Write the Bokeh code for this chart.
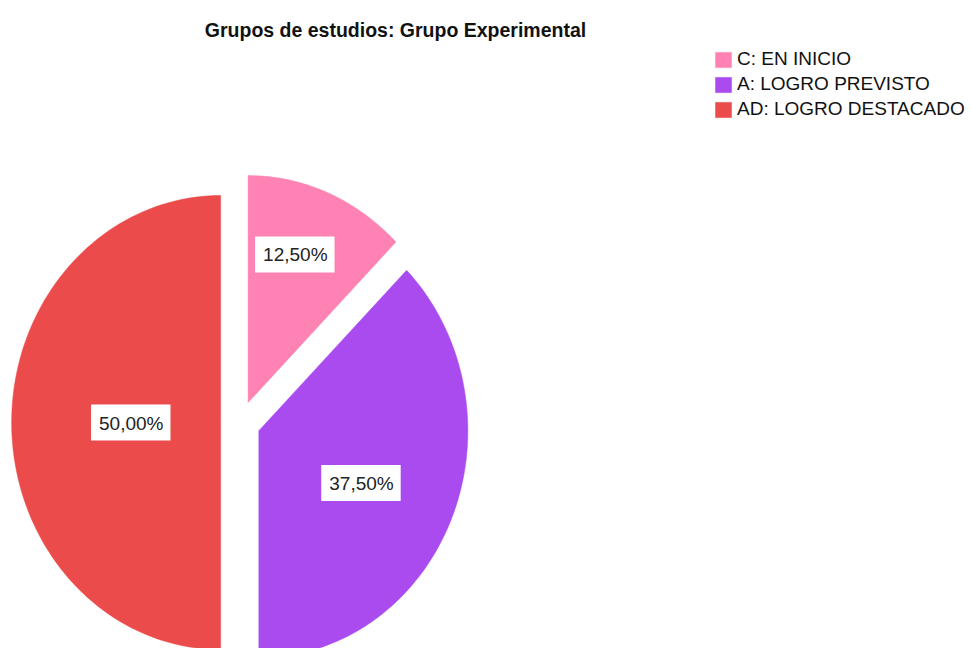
import math
from bokeh.plotting import figure
from bokeh.models import Range1d, ColumnDataSource, Legend, LegendItem, Label
from bokeh.core.properties import value
from bokeh.embed import file_html
from bokeh.resources import INLINE

# ---- data ----
title_text = "Grupos de estudios: Grupo Experimental"
categories = ["C: EN INICIO", "A: LOGRO PREVISTO", "AD: LOGRO DESTACADO"]
percentages = [12.5, 37.5, 50.0]
label_texts = ["12,50%", "37,50%", "50,00%"]

# ---- styles ----
colors = ["#FF82B4", "#AA4BF0", "#EB4B4B"]
explode = 0.095              # radial offset of every slice (unit radius = 1)
label_r = [0.69, 0.54, 0.43]  # radial position of the value labels
label_frac = [0.42, 0.52, 0.5]  # angular position of labels within slice

W, H = 971, 648
CX, CY, RX, RY = 240, 422, 209, 227   # pie centre / radii in screen px
p = figure(width=W, height=H, output_backend="svg", toolbar_location=None,
           x_axis_type=None, y_axis_type=None, min_border=0,
           x_range=Range1d(-CX / RX, (W - CX) / RX),
           y_range=Range1d(-(H - CY) / RY, CY / RY))
p.grid.visible = False
p.outline_line_color = None
p.background_fill_color = "white"
p.border_fill_color = "white"

total = sum(percentages)
xs, ys, lx, ly = [], [], [], []
start = 0.0
for i, v in enumerate(percentages):
    a0 = start
    a1 = start + 2 * math.pi * v / total
    mid = (a0 + a1) / 2
    ox, oy = explode * math.sin(mid), explode * math.cos(mid)
    n = max(4, int(200 * v / total))
    px = [ox] + [ox + math.sin(a0 + (a1 - a0) * k / n) for k in range(n + 1)]
    py = [oy] + [oy + math.cos(a0 + (a1 - a0) * k / n) for k in range(n + 1)]
    xs.append(px)
    ys.append(py)
    la = a0 + (a1 - a0) * label_frac[i]
    lx.append(ox + label_r[i] * math.sin(la))
    ly.append(oy + label_r[i] * math.cos(la))
    start = a1

src = ColumnDataSource(dict(xs=xs, ys=ys, color=colors, label=categories))
r = p.patches("xs", "ys", source=src, fill_color="color", line_color="color",
              line_width=0.5)

lsrc = ColumnDataSource(dict(x=lx, y=ly, t=label_texts))
p.text("x", "y", text="t", source=lsrc, text_align="center",
       text_baseline="middle", text_font=value("Liberation Sans"),
       text_font_size="19px", text_color="#222222",
       background_fill_color="white", padding=(8, 7, 8, 7))

title = Label(x=395, y=H - 29, x_units="screen", y_units="screen",
              text=title_text, text_align="center", text_baseline="middle",
              text_font="Liberation Sans", text_font_style="bold",
              text_font_size="19.5px", text_color="#111111")
p.add_layout(title)

items = [LegendItem(label=c, renderers=[r], index=i) for i, c in enumerate(categories)]
legend = Legend(items=items, location=(713, H - 120), orientation="vertical",
                glyph_width=20, glyph_height=19, label_height=19,
                spacing=3, padding=0, margin=0, label_standoff=4,
                label_text_font="Liberation Sans", label_text_font_size="19px",
                label_text_color="#111111", border_line_color=None,
                background_fill_alpha=0)
p.add_layout(legend)

open("out.html", "w").write(file_html(p, INLINE))
